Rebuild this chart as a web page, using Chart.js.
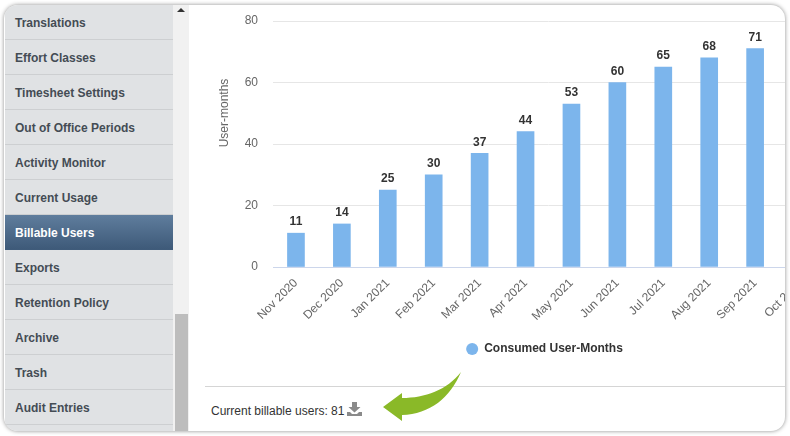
<!DOCTYPE html>
<html>
<head>
<meta charset="utf-8">
<script src="https://cdn.jsdelivr.net/npm/chart.js@4/dist/chart.umd.min.js"></script>
<style>
html, body { margin: 0; padding: 0; background: #fff; width: 790px; height: 436px; overflow: hidden; font-family: "Liberation Sans", Arial, sans-serif; }
#card { position: absolute; left: 4px; top: 5px; width: 781px; height: 426px; background: #fff; border-radius: 14px; overflow: hidden; box-shadow: 0 0 4px rgba(0,0,0,.45); }
#side { position: absolute; left: 1px; top: 0; width: 168px; height: 426px; background: #e0e2e4; overflow: hidden; }
#side div { height: 34px; line-height: 36px; border-bottom: 1px solid #cdcfd1; padding-left: 10px; font-size: 12px; font-weight: bold; color: #444c54; }
#side div.on { color: #fff; border-bottom-color: #3f5b7a; background: linear-gradient(#5f7d9d, #3e5a79); }
#track { position: absolute; left: 169px; top: 0; width: 16px; height: 426px; background: #f1f1f1; }
#thumb { position: absolute; left: 2px; top: 309px; width: 13px; height: 117px; background: #bdbdbd; }
#up { position: absolute; left: 4px; top: 3px; width: 0; height: 0; border-left: 4px solid transparent; border-right: 4px solid transparent; border-bottom: 4px solid #333; }
#wrap { position: absolute; left: 201px; top: 0; width: 580px; height: 380px; overflow: hidden; }
#wrap div { position: absolute; left: 0; top: 0; width: 676px; height: 365px; }
#rule { position: absolute; left: 201px; top: 381px; width: 580px; height: 1px; background: #d5d5d5; }
#cur { position: absolute; left: 207px; top: 399px; font-size: 12px; color: #333; line-height: 14px; }
svg { position: absolute; }
</style>
</head>
<body>
<div id="card">
  <div id="side"></div>
  <div id="track"><div id="up"></div><div id="thumb"></div></div>
  <div id="wrap"><div><canvas id="chart"></canvas></div></div>
  <div id="rule"></div>
  <div id="cur">Current billable users: 81</div>
  <svg style="left:343px;top:397px" width="15" height="14" viewBox="0 0 15 14">
    <path d="M5 0h5v5h3.5L7.500 10.500 1.500 5H5z M0 10h3l2 2h5l2-2h3v4H0z" fill="#8a8a8a"/>
  </svg>
</div>
<svg style="left:0;top:0" width="790" height="436">
  <path d="M461 372C447 390 425 398 402 398L402 393L383 407L402 421L402 415C430 414 450 398 461 372Z" fill="#8ab928"/>
</svg>
<script>
const menuItems = ['Translations', 'Effort Classes', 'Timesheet Settings', 'Out of Office Periods', 'Activity Monitor', 'Current Usage', 'Billable Users', 'Exports', 'Retention Policy', 'Archive', 'Trash', 'Audit Entries', ''];
const activeItem = 'Billable Users';

const categories = ['Nov 2020', 'Dec 2020', 'Jan 2021', 'Feb 2021', 'Mar 2021', 'Apr 2021', 'May 2021', 'Jun 2021', 'Jul 2021', 'Aug 2021', 'Sep 2021', 'Oct 2021'];
// Oct 2021 is cut off in the picture, its bar can't be read
const consumed = [11, 14, 25, 30, 37, 44, 53, 60, 65, 68, 71, null];

const side = document.getElementById('side');
menuItems.forEach(name => {
    const el = document.createElement('div');
    el.textContent = name;
    if (name === activeItem) el.className = 'on';
    side.appendChild(el);
});

// Werte über den Balken, dazu der Achsentitel (sitzt im Original nicht mittig)
const valueLabels = {
    id: 'valueLabels',
    afterLayout(chart) {
        // Legende mittig zur ganzen Canvas statt zur Plotfläche
        chart.legend.left += 30;
        chart.legend.right += 30;
    },
    afterDatasetsDraw(chart) {
        const ctx = chart.ctx;
        ctx.save();
        ctx.font = 'bold 12px "Liberation Sans"';
        ctx.fillStyle = '#333';
        ctx.textAlign = 'center';
        ctx.textBaseline = 'bottom';
        chart.getDatasetMeta(0).data.forEach((bar, i) => {
            if (consumed[i] === null) return;
            ctx.fillText(consumed[i], bar.x, bar.y - 5);
        });
        ctx.font = '12px "Liberation Sans"';
        ctx.fillStyle = '#666';
        ctx.textBaseline = 'middle';
        ctx.translate(20, chart.chartArea.top + 92);
        ctx.rotate(-Math.PI / 2);
        ctx.fillText('User-months', 0, 0);
        ctx.restore();
    }
};

Chart.defaults.font.family = '"Liberation Sans", Arial, sans-serif';
Chart.defaults.font.size = 12;

new Chart(document.getElementById('chart'), {
    type: 'bar',
    data: {
        labels: categories,
        datasets: [{
            label: 'Consumed User-Months',
            data: consumed,
            backgroundColor: '#7cb5ec',
            barThickness: 17
        }]
    },
    options: {
        responsive: true,
        maintainAspectRatio: false,
        animation: false,
        layout: { padding: { top: 16, right: 57, bottom: 5 } },
        plugins: {
            legend: {
                position: 'bottom',
                labels: {
                    usePointStyle: true,
                    pointStyle: 'circle',
                    boxHeight: 8.5,
                    padding: 12,
                    color: '#333',
                    font: { weight: 'bold', size: 12 }
                }
            },
            tooltip: { enabled: false }
        },
        scales: {
            x: {
                grid: { drawOnChartArea: false, drawTicks: false },
                border: { color: '#ccd6eb' },
                ticks: { color: '#666', minRotation: 45, maxRotation: 45, autoSkip: false, padding: 9 },
                afterFit(axis) { axis.height = 64; }
            },
            y: {
                min: 0,
                max: 80,
                grid: { color: '#e6e6e6', tickLength: 15, tickColor: 'transparent' },
                border: { display: false },
                ticks: { stepSize: 20, color: '#666', padding: 0 },
                afterFit(axis) { axis.width = 68; }
            }
        }
    },
    plugins: [valueLabels]
});
</script>
</body>
</html>
